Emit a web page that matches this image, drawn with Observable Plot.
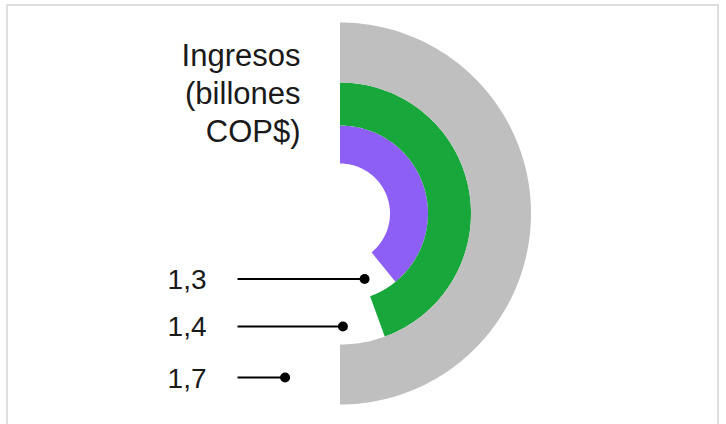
<!DOCTYPE html>
<html>
<head>
<meta charset="utf-8">
<script src="https://cdn.jsdelivr.net/npm/d3@7"></script>
<script src="https://cdn.jsdelivr.net/npm/@observablehq/plot@0.6"></script>
<style>
  html, body { margin: 0; padding: 0; background: #fff; }
  #wrap { position: relative; width: 726px; height: 424px; overflow: hidden; }
  #frame { position: absolute; left: 6px; top: 4px; width: 713px; height: 460px;
           border: 2px solid #dedede; box-sizing: border-box; }
  #chart { position: absolute; left: 0; top: 0; }
</style>
</head>
<body>
<div id="wrap"><div id="frame"></div><div id="chart"></div></div>
<script>
// ---- data ----
const seriesNames = ["Interior", "Medio", "Exterior"];
const values = [1.3, 1.4, 1.7];
const valueLabels = ["1,3", "1,4", "1,7"];
const arcShare = [0.783, 0.889, 1.0];          // share of the half circle covered by each arc
const titleLines = ["Ingresos", "(billones", "COP$)"];

// ---- layout / style ----
const W = 726, H = 424;
const cx = 339.5, cy = 213;
const ringRadii = [[50, 88], [88, 131], [131, 191]];
const colors = ["#8e5ff4", "#18a73a", "#bfbfbf"];
const font = "'Liberation Sans', Arial, Helvetica, sans-serif";
const labelX = 206 - cx, lineStartX = 237 - cx;
const dotAngleOffset = 18.5 * Math.PI / 180, dotInset = 18;

const angle = d3.scaleLinear().domain([0, 1]).range([0, Math.PI]);
const polar = (r, t) => [r * Math.sin(t), -r * Math.cos(t)];

// ring polygons
const N = 120;
const ringPts = [];
seriesNames.forEach((name, i) => {
  const [r0, r1] = ringRadii[i];
  const tEnd = angle(arcShare[i]);
  for (let k = 0; k <= N; k++) {
    const [x, y] = polar(r1, tEnd * k / N);
    ringPts.push({ring: name, color: colors[i], x, y});
  }
  for (let k = N; k >= 0; k--) {
    const [x, y] = polar(r0, tEnd * k / N);
    ringPts.push({ring: name, color: colors[i], x, y});
  }
});

// label rows: dot just past the end of each arc
const rows = seriesNames.map((name, i) => {
  const t = angle(arcShare[i]) + dotAngleOffset;
  const [x, y] = polar(ringRadii[i][1] - dotInset, t);
  return {name, value: values[i], label: valueLabels[i], x, y};
});

const plot = Plot.plot({
  width: W, height: H, margin: 0,
  style: {background: "transparent", overflow: "visible"},
  x: {domain: [-cx, W - cx], axis: null},
  y: {domain: [-cy, H - cy], range: [0, H], axis: null},
  marks: [
    Plot.line(ringPts, {x: "x", y: "y", z: "ring", fill: "color", stroke: "none"}),
    Plot.link(rows, {x1: lineStartX, x2: "x", y1: "y", y2: "y", stroke: "#000", strokeWidth: 2}),
    Plot.dot(rows, {x: "x", y: "y", r: 5, fill: "#000", stroke: "none"}),
    Plot.text(rows, {x: labelX, y: "y", text: "label", textAnchor: "end", lineAnchor: "middle",
      fontSize: 28, fontFamily: font, fill: "#1a1a1a", dy: 1, style: "letter-spacing:-1.5px"}),
    Plot.text([titleLines.join("\n")], {x: 300 - cx, y: 38 - cy, text: d => d, textAnchor: "end",
      lineAnchor: "top", lineHeight: 1.23, fontSize: 31, fontFamily: font, fill: "#1a1a1a"})
  ]
});
document.getElementById("chart").appendChild(plot);
</script>
</body>
</html>
